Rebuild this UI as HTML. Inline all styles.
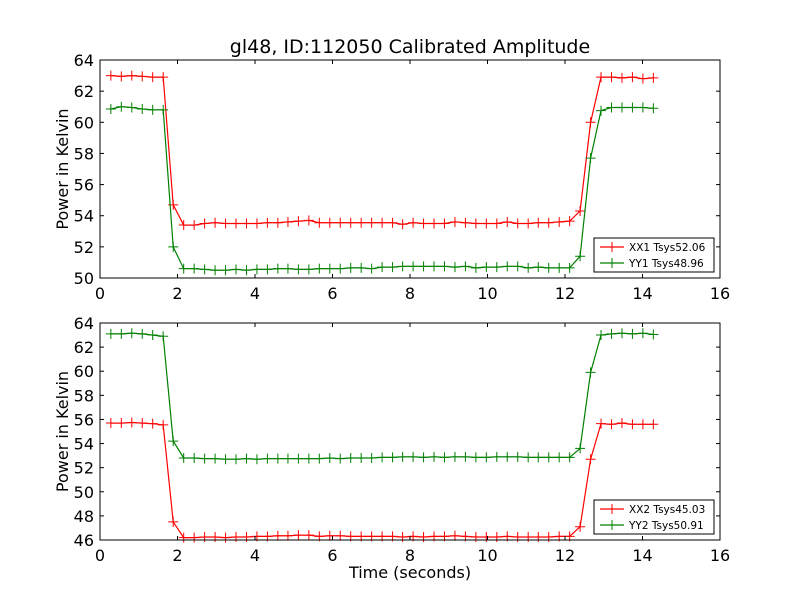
<!DOCTYPE html>
<html><head><meta charset="utf-8"><style>
body{margin:0;background:#fff;}
svg{display:block;font-family:"DejaVu Sans","Liberation Sans",sans-serif;}
</style></head><body>
<svg id="chart" width="800" height="600"></svg>
<script>
const times = [0.28,0.55,0.82,1.09,1.36,1.63,1.89,2.16,2.43,2.70,2.97,3.24,3.51,3.78,4.05,4.32,4.59,4.85,5.12,5.39,5.66,5.93,6.20,6.47,6.74,7.01,7.28,7.55,7.81,8.08,8.35,8.62,8.89,9.16,9.43,9.70,9.97,10.24,10.51,10.78,11.05,11.31,11.58,11.85,12.12,12.39,12.66,12.93,13.20,13.47,13.74,14.01,14.28];
const xx1 = [63.0,62.95,63.0,62.95,62.9,62.9,54.7,53.4,53.4,53.5,53.55,53.5,53.5,53.5,53.5,53.55,53.55,53.6,53.65,53.7,53.55,53.55,53.55,53.55,53.55,53.55,53.55,53.55,53.45,53.55,53.5,53.5,53.5,53.6,53.55,53.5,53.5,53.5,53.6,53.5,53.5,53.55,53.55,53.6,53.65,54.3,60.0,62.9,62.9,62.85,62.9,62.8,62.85];
const yy1 = [60.85,61.0,60.95,60.85,60.8,60.8,52.0,50.6,50.6,50.55,50.5,50.5,50.55,50.5,50.55,50.55,50.6,50.6,50.55,50.55,50.6,50.6,50.6,50.65,50.65,50.6,50.7,50.7,50.75,50.75,50.75,50.75,50.75,50.7,50.75,50.65,50.7,50.7,50.75,50.75,50.65,50.7,50.65,50.65,50.65,51.4,57.7,60.75,60.95,60.95,60.95,60.95,60.9];
const xx2 = [55.7,55.7,55.75,55.7,55.65,55.55,47.5,46.2,46.2,46.25,46.25,46.2,46.25,46.25,46.3,46.3,46.35,46.35,46.4,46.4,46.3,46.35,46.35,46.3,46.3,46.3,46.3,46.3,46.25,46.3,46.25,46.3,46.3,46.35,46.3,46.25,46.25,46.25,46.3,46.25,46.25,46.25,46.25,46.3,46.3,47.1,52.7,55.65,55.6,55.7,55.6,55.6,55.6];
const yy2 = [63.1,63.1,63.15,63.1,63.0,62.9,54.2,52.8,52.8,52.75,52.75,52.7,52.7,52.75,52.7,52.75,52.75,52.75,52.75,52.75,52.75,52.8,52.75,52.8,52.8,52.8,52.85,52.85,52.9,52.9,52.85,52.9,52.85,52.9,52.9,52.85,52.85,52.9,52.9,52.9,52.85,52.85,52.85,52.85,52.85,53.6,59.9,63.0,63.1,63.15,63.1,63.15,63.05];
const xTicks = [0,2,4,6,8,10,12,14,16];
const yTicksTop = [50,52,54,56,58,60,62,64];
const yTicksBot = [46,48,50,52,54,56,58,60,62,64];

const NS='http://www.w3.org/2000/svg';
const svg=document.getElementById('chart');
function mk(tag,attrs,parent){const e=document.createElementNS(NS,tag);for(const k in attrs)e.setAttribute(k,attrs[k]);(parent||svg).appendChild(e);return e;}

function panel(name,top,bottom,ymin,ymax,yTicks,series,legendY,showXLabel){
  const L=100,R=720;
  const g=mk('g',{});
  
  
  const xs=v=>L+(v-0)/(16-0)*(R-L);
  const ys=v=>bottom-(v-ymin)/(ymax-ymin)*(bottom-top);
  mk('rect',{x:L,y:top,width:R-L,height:bottom-top,fill:'#fff',stroke:'none'},g);
  series.forEach(s=>{
    const sg=mk('g',{},g);
    
    
    const pts=times.map((t,i)=>xs(t).toFixed(1)+','+ys(s.vals[i]).toFixed(1)).join(' ');
    mk('polyline',{points:pts,fill:'none',stroke:s.color,'stroke-width':1.2},sg);
    times.forEach((t,i)=>{const x=xs(t),y=ys(s.vals[i]);
      mk('path',{d:`M${x-5},${y}H${x+5}M${x},${y-5}V${y+5}`,stroke:s.color,'stroke-width':1},sg);});
  });
  mk('rect',{x:L,y:top,width:R-L,height:bottom-top,fill:'none',stroke:'#000','stroke-width':1},g);
  xTicks.forEach(v=>{const x=xs(v);
    mk('line',{x1:x,y1:bottom,x2:x,y2:bottom-4,stroke:'#000'},g);
    mk('line',{x1:x,y1:top,x2:x,y2:top+4,stroke:'#000'},g);
    const t=mk('text',{x:x,y:bottom+21,'text-anchor':'middle','font-size':16},g);t.textContent=v;
    
    });
  yTicks.forEach(v=>{const y=ys(v);
    mk('line',{x1:L,y1:y,x2:L+4,y2:y,stroke:'#000'},g);
    mk('line',{x1:R,y1:y,x2:R-4,y2:y,stroke:'#000'},g);
    const t=mk('text',{x:L-6,y:y+6,'text-anchor':'end','font-size':16},g);t.textContent=v;
    
    });
  const yl=mk('text',{x:68,y:(top+bottom)/2,'text-anchor':'middle','font-size':16,transform:`rotate(-90 68 ${(top+bottom)/2})`},g);
  yl.textContent='Power in Kelvin';
  
  
  if(showXLabel){const xl=mk('text',{x:410,y:578,'text-anchor':'middle','font-size':16},g);xl.textContent='Time (seconds)';
    
    }
  const lg=mk('g',{},g);
  
  
  mk('rect',{x:594,y:legendY,width:120,height:34,fill:'#fff',stroke:'#000'},lg);
  series.forEach((s,i)=>{const y=legendY+9+i*16;
    mk('line',{x1:600,y1:y,x2:624,y2:y,stroke:s.color,'stroke-width':1.2},lg);
    mk('path',{d:`M607,${y}h10M612,${y-5}v10`,stroke:s.color},lg);
    const t=mk('text',{x:629,y:y+4,'font-size':10.5},lg);t.textContent=s.label;
    
    });
}
const title=mk('text',{x:410,y:53,'text-anchor':'middle','font-size':19});
title.textContent='gl48, ID:112050 Calibrated Amplitude';


panel('top-panel',60,278,50,64,yTicksTop,[{name:'series-xx1',vals:xx1,color:'#ff0000',label:'XX1 Tsys52.06'},{name:'series-yy1',vals:yy1,color:'#008000',label:'YY1 Tsys48.96'}],238,false);
panel('bottom-panel',323,540,46,64,yTicksBot,[{name:'series-xx2',vals:xx2,color:'#ff0000',label:'XX2 Tsys45.03'},{name:'series-yy2',vals:yy2,color:'#008000',label:'YY2 Tsys50.91'}],500,true);
</script>
</body></html>
